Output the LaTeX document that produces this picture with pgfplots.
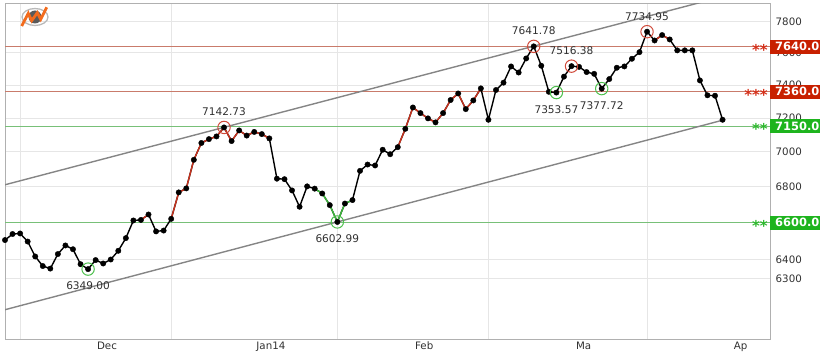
\documentclass[border=0pt]{standalone}
\usepackage{pgfplots}
\pgfplotsset{compat=1.18}
\usepackage{pgfplotstable}
\usepackage{fontspec}
\setmainfont{DejaVu Sans}
\definecolor{gridc}{HTML}{E6E6E6}
\definecolor{axisc}{HTML}{B0B0B0}
\definecolor{chan}{HTML}{858585}
\definecolor{lvlred}{HTML}{C97B6B}
\definecolor{lvlgreen}{HTML}{78C078}
\definecolor{segred}{HTML}{C8321E}
\definecolor{seggreen}{HTML}{3CB83C}
\definecolor{circred}{HTML}{D04A3A}
\definecolor{circgreen}{HTML}{4CBF4C}
\definecolor{boxred}{HTML}{C82000}
\definecolor{boxgreen}{HTML}{1EB41E}
\definecolor{starred}{HTML}{D4301A}
\definecolor{stargreen}{HTML}{2DB82D}
\definecolor{labc}{HTML}{303030}
\definecolor{logoorange}{HTML}{F26B1D}
\definecolor{logogray}{HTML}{5A5A5A}

\pgfplotstableread{
i v
0 6504
1 6537
2 6540
3 6496
4 6416
5 6365
6 6352
7 6429
8 6475
9 6455
10 6375
11 6349.00
12 6397
13 6379
14 6400
15 6446
16 6515
17 6611
18 6614
19 6644
20 6551
21 6556
22 6620
23 6767
24 6790
25 6953
26 7051
27 7074
28 7090
29 7142.73
30 7063
31 7125
32 7095
33 7116
34 7104
35 7078
36 6845
37 6842
38 6778
39 6687
40 6801
41 6788
42 6761
43 6696
44 6602.99
45 6705
46 6724
47 6890
48 6926
49 6921
50 7012
51 6986
52 7027
53 7135
54 7263
55 7229
56 7197
57 7173
58 7229
59 7308
60 7348
61 7253
62 7305
63 7379
64 7189
65 7369
66 7414
67 7515
68 7477
69 7565
70 7641.78
71 7519
72 7358
73 7353.57
74 7451
75 7516.38
76 7512
77 7480
78 7469
79 7377.72
80 7436
81 7507
82 7515
83 7563
84 7605
85 7734.95
86 7679
87 7714
88 7685
89 7616
90 7616
91 7616
92 7428
93 7336
94 7334
95 7189
}\datatab

\begin{document}
\begin{tikzpicture}[font=\fontsize{10.3}{12}\selectfont]
\useasboundingbox (0,0) rectangle (820bp,360bp);
\clip (0,0) rectangle (820bp,360bp);
\begin{axis}[
  at={(5bp,20bp)}, anchor=south west,
  scale only axis, width=765bp, height=336bp,
  ymode=log, xmin=0, xmax=101.28, ymin=5986, ymax=7917,
  axis line style={draw=axisc, line width=1bp},
  tick style={draw=none}, major tick length=0pt, minor tick num=0,
  xtick={2,22,44,64,85}, xticklabels={},
  extra x ticks={13.5,35.2,55.5,76.6,97.4},
  extra x tick labels={Dec,Jan14,Feb,Ma,Ap},
  extra x tick style={grid=none},
  xmajorgrids, ymajorgrids,
  grid style={draw=gridc, line width=0.8bp},
  ytick={6300,6400,6600,6800,7000,7200,7400,7600,7800},
  yticklabels={6300,6400,6600,6800,7000,7200,7400,7600,7800},
  yticklabel pos=right,
  yticklabel style={anchor=west, inner sep=0pt, xshift=5.5bp, text=labc},
  xticklabel style={anchor=north, inner sep=0pt, yshift=-2bp, text=labc},
]
% level lines
\addplot[lvlred, line width=1bp] coordinates {(0,7640) (101.28,7640)};
\addplot[lvlred, line width=1bp] coordinates {(0,7360) (101.28,7360)};
\addplot[lvlgreen, line width=1bp] coordinates {(0,7150) (101.28,7150)};
\addplot[lvlgreen, line width=1bp] coordinates {(0,6600) (101.28,6600)};
% channel
\addplot[chan, line width=1.4bp] coordinates {(0,6810.3) (101.28,8045.8)};
\addplot[chan, line width=1.4bp] coordinates {(0,6138) (95,7186)};
% main line
\addplot[black, line width=1.4bp, mark=none] table[x=i,y=v] {\datatab};
% colored segments
\addplot[segred, line width=1.4bp, mark=none, skip coords between index={0}{18}, skip coords between index={20}{96}] table[x=i,y=v] {\datatab};
\addplot[segred, line width=1.4bp, mark=none, skip coords between index={0}{22}, skip coords between index={36}{96}] table[x=i,y=v] {\datatab};
\addplot[segred, line width=1.4bp, mark=none, skip coords between index={0}{52}, skip coords between index={64}{96}] table[x=i,y=v] {\datatab};
\addplot[segred, line width=1.4bp, mark=none, skip coords between index={0}{86}, skip coords between index={89}{96}] table[x=i,y=v] {\datatab};
\addplot[seggreen, line width=1.4bp, mark=none, skip coords between index={0}{41}, skip coords between index={47}{96}] table[x=i,y=v] {\datatab};
% markers
\addplot[only marks, mark=*, mark size=2.7bp, black] table[x=i,y=v] {\datatab};
% highs
\addplot[only marks, mark=o, mark size=6.2bp, circred, mark options={line width=1bp},
  point meta=explicit symbolic, nodes near coords,
  every node near coord/.append style={anchor=south, yshift=10.8bp, inner sep=0pt, text=labc, font=\fontsize{10.6}{12}\selectfont}]
  coordinates {(29,7142.73) [7142.73] (70,7641.78) [7641.78] (75,7516.38) [7516.38] (85,7734.95) [7734.95]};
% lows
\addplot[only marks, mark=o, mark size=6.2bp, circgreen, mark options={line width=1bp},
  point meta=explicit symbolic, nodes near coords,
  every node near coord/.append style={anchor=north, yshift=-12.3bp, inner sep=0pt, text=labc, font=\fontsize{10.6}{12}\selectfont}]
  coordinates {(11,6349.00) [6349.00] (44,6602.99) [6602.99] (73,7353.57) [7353.57] (79,7377.72) [7377.72]};
\coordinate (A) at (axis cs:101.28,7640);
\coordinate (B) at (axis cs:101.28,7360);
\coordinate (C) at (axis cs:101.28,7150);
\coordinate (D) at (axis cs:101.28,6600);
\end{axis}
\tikzset{boxlab/.style={text=white, font=\bfseries\fontsize{11.5}{13}\selectfont, anchor=west, inner xsep=5bp, inner ysep=0pt, minimum height=14bp, text height=8.3bp, text depth=0pt, text width=60bp, align=left},
 starlab/.style={anchor=east, font=\bfseries\fontsize{15}{15}\selectfont, inner sep=0pt, xshift=-2bp, yshift=-3bp}}
\node[boxlab, fill=boxred] at (A) {7640.0};
\node[starlab, text=starred] at (A) {**};
\node[boxlab, fill=boxred] at (B) {7360.0};
\node[starlab, text=starred] at (B) {***};
\node[boxlab, fill=boxgreen] at (C) {7150.0};
\node[starlab, text=stargreen] at (C) {**};
\node[boxlab, fill=boxgreen] at (D) {6600.0};
\node[starlab, text=stargreen] at (D) {**};
% logo
\begin{scope}[x=1bp,y=1bp]
\draw[gray!55, line width=1.3bp] (35,343) ellipse (13 and 8.5);
\fill[logogray] (35,343) circle (6.5);
\draw[logoorange, line width=2.8bp] (21.7,334) -- (28.3,346.7) -- (31.7,339.3) -- (37.3,347.3) -- (40.7,340.7) -- (46.7,352.7);
\end{scope}
\end{tikzpicture}
\end{document}
